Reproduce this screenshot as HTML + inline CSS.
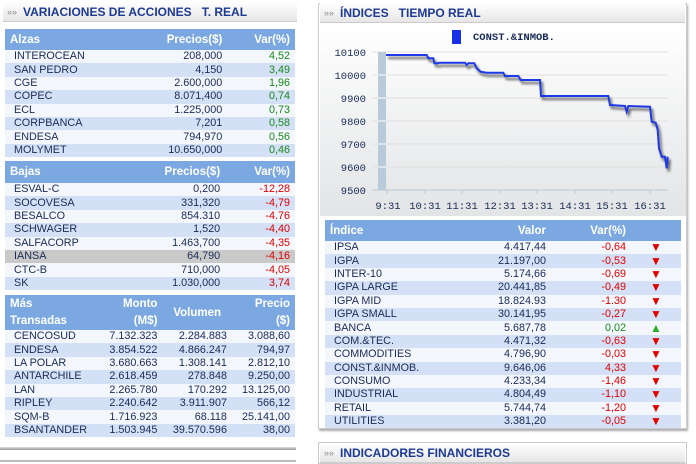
<!DOCTYPE html>
<html><head><meta charset="utf-8"><style>
*{margin:0;padding:0;box-sizing:border-box}
body{width:696px;height:464px;background:#fff;font-family:"Liberation Sans",Verdana,sans-serif;position:relative;overflow:hidden;color:#1a2b55}
.ttl{position:absolute;height:20px;background:linear-gradient(#fff,#e6e6e6);border-bottom:1px solid #ccc;font-weight:bold;font-size:12px;color:#1c3a94;line-height:20px;padding-left:20px}
.ttl:before{content:"»»";position:absolute;left:4px;font-size:9px;color:#888;font-weight:normal}
table{position:absolute;border-collapse:collapse;font-size:10.8px}
th{background:#7ca8e2;color:#fff;font-weight:bold;font-size:11.5px;text-align:right;padding:0 5px}
th.l{text-align:left}
td{height:13.4px;line-height:13px;padding:0 5px;text-align:right;white-space:nowrap}
td.n{text-align:left;padding-left:9px}
tr:nth-child(even) td{background:#d3e0f5}
tr:nth-child(odd) td{background:#f3f6fb}
tr.g td{background:#c9c9c9!important}
.p{color:#1a8a1a}.m{color:#e00000}
.dn{color:#e00000;font-size:12px;text-align:center}.up{color:#2ab02a;font-size:12px;text-align:center}
</style></head><body>
<div class="ttl" style="left:3px;top:2px;width:294px">VARIACIONES DE ACCIONES &nbsp;&nbsp;T. REAL</div>

<table style="left:5px;top:29px;width:290px">
<thead><tr style="height:21px"><th class="l">Alzas</th><th>Precios($)</th><th>Var(%)</th></tr></thead>
<tbody>
<tr><td class="n">INTEROCEAN</td><td>208,000</td><td class="p">4,52</td></tr>
<tr><td class="n">SAN PEDRO</td><td>4,150</td><td class="p">3,49</td></tr>
<tr><td class="n">CGE</td><td>2.600,000</td><td class="p">1,96</td></tr>
<tr><td class="n">COPEC</td><td>8.071,400</td><td class="p">0,74</td></tr>
<tr><td class="n">ECL</td><td>1.225,000</td><td class="p">0,73</td></tr>
<tr><td class="n">CORPBANCA</td><td>7,201</td><td class="p">0,58</td></tr>
<tr><td class="n">ENDESA</td><td>794,970</td><td class="p">0,56</td></tr>
<tr><td class="n">MOLYMET</td><td>10.650,000</td><td class="p">0,46</td></tr>
</tbody></table>

<table style="left:5px;top:161px;width:290px">
<thead><tr style="height:22px"><th class="l">Bajas</th><th>Precios($)</th><th>Var(%)</th></tr></thead>
<tbody>
<tr><td class="n">ESVAL-C</td><td>0,200</td><td class="m">-12,28</td></tr>
<tr><td class="n">SOCOVESA</td><td>331,320</td><td class="m">-4,79</td></tr>
<tr><td class="n">BESALCO</td><td>854.310</td><td class="m">-4.76</td></tr>
<tr><td class="n">SCHWAGER</td><td>1,520</td><td class="m">-4,40</td></tr>
<tr><td class="n">SALFACORP</td><td>1.463,700</td><td class="m">-4,35</td></tr>
<tr class="g"><td class="n">IANSA</td><td>64,790</td><td class="m">-4,16</td></tr>
<tr><td class="n">CTC-B</td><td>710,000</td><td class="m">-4,05</td></tr>
<tr><td class="n">SK</td><td>1.030,000</td><td class="m">3,74</td></tr>
</tbody></table>

<table style="left:5px;top:295px;width:290px">
<thead><tr style="height:35px"><th class="l" style="line-height:17px">Más<br>Transadas</th><th style="line-height:17px">Monto<br>(M$)</th><th style="text-align:center">Volumen</th><th style="line-height:17px">Precio<br>($)</th></tr></thead>
<tbody>
<tr><td class="n">CENCOSUD</td><td>7.132.323</td><td>2.284.883</td><td>3.088,60</td></tr>
<tr><td class="n">ENDESA</td><td>3.854.522</td><td>4.866.247</td><td>794,97</td></tr>
<tr><td class="n">LA POLAR</td><td>3.680.663</td><td>1.308.141</td><td>2.812,10</td></tr>
<tr><td class="n">ANTARCHILE</td><td>2.618.459</td><td>278.848</td><td>9.250,00</td></tr>
<tr><td class="n">LAN</td><td>2.265.780</td><td>170.292</td><td>13.125,00</td></tr>
<tr><td class="n">RIPLEY</td><td>2.240.642</td><td>3.911.907</td><td>566,12</td></tr>
<tr><td class="n">SQM-B</td><td>1.716.923</td><td>68.118</td><td>25.141,00</td></tr>
<tr><td class="n">BSANTANDER</td><td>1.503.945</td><td>39.570.596</td><td>38,00</td></tr>
</tbody></table>
<div style="position:absolute;left:0;top:447px;width:296px;height:3px;background:linear-gradient(#ddd,#999)"></div>
<div style="position:absolute;left:0;top:460px;width:296px;height:2px;background:#bbb"></div>

<div style="position:absolute;left:318px;top:3px;width:369px;height:426px;border:1px solid #ccc;box-shadow:1px 2px 2px #aaa"></div>
<div class="ttl" style="left:320px;top:3px;width:365px">ÍNDICES &nbsp;&nbsp;TIEMPO REAL</div>

<svg style="position:absolute;left:320px;top:24px" width="366" height="192" viewBox="320 24 366 192">
<defs><linearGradient id="bg" x1="0" y1="0" x2="0" y2="1"><stop offset="0" stop-color="#ffffff"/><stop offset="1" stop-color="#e2e4e6"/></linearGradient>
<filter id="b"><feGaussianBlur stdDeviation="1.2"/></filter></defs>
<rect x="320" y="24" width="366" height="192" fill="url(#bg)"/>
<rect x="452" y="30" width="9" height="14" fill="#1530e8"/>
<text x="473" y="40" font-size="10.5" font-weight="bold" fill="#1a2b55" font-family="Liberation Mono,monospace">CONST.&amp;INMOB.</text>
<g stroke="#e0e0e0" stroke-width="1">
<line x1="372" y1="52" x2="668" y2="52"/><line x1="372" y1="75" x2="668" y2="75"/><line x1="372" y1="98" x2="668" y2="98"/><line x1="372" y1="121" x2="668" y2="121"/><line x1="372" y1="144" x2="668" y2="144"/><line x1="372" y1="167" x2="668" y2="167"/></g>
<line x1="372" y1="190" x2="668" y2="190" stroke="#b8c8d8"/>
<rect x="378" y="52" width="8" height="138" fill="#b9cad9"/>
<g stroke="#fff"><line x1="378" y1="75" x2="386" y2="75"/><line x1="378" y1="98" x2="386" y2="98"/><line x1="378" y1="121" x2="386" y2="121"/><line x1="378" y1="144" x2="386" y2="144"/><line x1="378" y1="167" x2="386" y2="167"/></g>
<g font-size="10.5" fill="#1a2b55" font-family="Liberation Mono,monospace" text-anchor="end">
<text x="366" y="56">10100</text><text x="366" y="79">10000</text><text x="366" y="102">9900</text><text x="366" y="125">9800</text><text x="366" y="148">9700</text><text x="366" y="171">9600</text><text x="366" y="194">9500</text></g>
<g stroke="#b8c8d8"><line x1="387" y1="190" x2="387" y2="194"/><line x1="425" y1="190" x2="425" y2="194"/><line x1="462" y1="190" x2="462" y2="194"/><line x1="500" y1="190" x2="500" y2="194"/><line x1="537" y1="190" x2="537" y2="194"/><line x1="575" y1="190" x2="575" y2="194"/><line x1="612" y1="190" x2="612" y2="194"/><line x1="650" y1="190" x2="650" y2="194"/></g>
<g font-size="10.5" fill="#1a2b55" font-family="Liberation Mono,monospace" text-anchor="middle">
<text x="388" y="209">9:31</text><text x="425" y="209">10:31</text><text x="462" y="209">11:31</text><text x="500" y="209">12:31</text><text x="537" y="209">13:31</text><text x="575" y="209">14:31</text><text x="612" y="209">15:31</text><text x="650" y="209">16:31</text></g>
<polyline fill="none" stroke-width="2" points="386,55 426.7,55 428.3,58.3 433.3,58.3 434.3,63.3 438.3,63.3 439,62.7 465,62.7 466.7,65 468.3,63.3 474.3,63.3 476.7,68.3 480.7,71.7 486.7,72.7 503.3,72.7 505,76 518.3,76 520.7,80 540,80 541,96 608.3,96 610,105 625,106 626.7,111.7 628.3,106 650,106.7 651.7,121.7 655.7,122.7 657.7,130 659,148.3 661.7,156.7 665,156.7 666.7,168.3 667.7,156.7" stroke="#333" filter="url(#b)" transform="translate(2,3)" opacity="0.8"/>
<polyline fill="none" stroke="#1e3ae8" stroke-width="2" points="386,55 426.7,55 428.3,58.3 433.3,58.3 434.3,63.3 438.3,63.3 439,62.7 465,62.7 466.7,65 468.3,63.3 474.3,63.3 476.7,68.3 480.7,71.7 486.7,72.7 503.3,72.7 505,76 518.3,76 520.7,80 540,80 541,96 608.3,96 610,105 625,106 626.7,111.7 628.3,106 650,106.7 651.7,121.7 655.7,122.7 657.7,130 659,148.3 661.7,156.7 665,156.7 666.7,168.3 667.7,156.7"/>
</svg>

<table style="left:325px;top:220px;width:356px">
<thead><tr style="height:21px"><th class="l">Índice</th><th style="width:80px">Valor</th><th style="width:80px">Var(%)</th><th style="width:50px"></th></tr></thead>
<tbody>
<tr><td class="n">IPSA</td><td>4.417,44</td><td class="m">-0,64</td><td class="dn">▼</td></tr>
<tr><td class="n">IGPA</td><td>21.197,00</td><td class="m">-0,53</td><td class="dn">▼</td></tr>
<tr><td class="n">INTER-10</td><td>5.174,66</td><td class="m">-0,69</td><td class="dn">▼</td></tr>
<tr><td class="n">IGPA LARGE</td><td>20.441,85</td><td class="m">-0,49</td><td class="dn">▼</td></tr>
<tr><td class="n">IGPA MID</td><td>18.824.93</td><td class="m">-1.30</td><td class="dn">▼</td></tr>
<tr><td class="n">IGPA SMALL</td><td>30.141,95</td><td class="m">-0,27</td><td class="dn">▼</td></tr>
<tr><td class="n">BANCA</td><td>5.687,78</td><td class="p">0,02</td><td class="up">▲</td></tr>
<tr><td class="n">COM.&amp;TEC.</td><td>4.471,32</td><td class="m">-0,63</td><td class="dn">▼</td></tr>
<tr><td class="n">COMMODITIES</td><td>4.796,90</td><td class="m">-0,03</td><td class="dn">▼</td></tr>
<tr><td class="n">CONST.&amp;INMOB.</td><td>9.646,06</td><td class="m">4,33</td><td class="dn">▼</td></tr>
<tr><td class="n">CONSUMO</td><td>4.233,34</td><td class="m">-1,46</td><td class="dn">▼</td></tr>
<tr><td class="n">INDUSTRIAL</td><td>4.804,49</td><td class="m">-1,10</td><td class="dn">▼</td></tr>
<tr><td class="n">RETAIL</td><td>5.744,74</td><td class="m">-1,20</td><td class="dn">▼</td></tr>
<tr><td class="n">UTILITIES</td><td>3.381,20</td><td class="m">-0,05</td><td class="dn">▼</td></tr>
</tbody></table>

<div style="position:absolute;left:318px;top:442px;width:369px;height:22px;border:1px solid #ccc"></div>
<div class="ttl" style="left:320px;top:443px;width:365px">INDICADORES FINANCIEROS</div>
</body></html>
